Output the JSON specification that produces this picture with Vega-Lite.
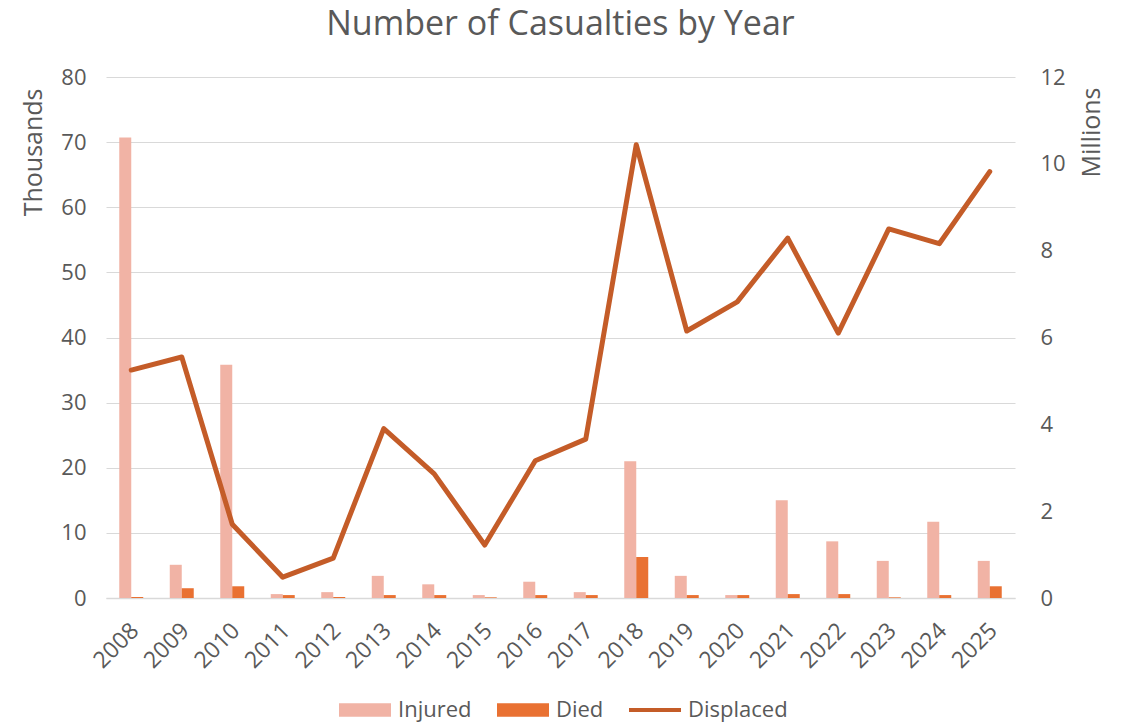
{
  "$schema": "https://vega.github.io/schema/vega-lite/v6.json",
  "width": 909,
  "height": 521,
  "autosize": "none",
  "padding": {"left": 106, "top": 77, "right": 112, "bottom": 130},
  "background": "white",
  "title": {
    "text": "Number of Casualties by Year",
    "fontSize": 34,
    "font": "Open Sans",
    "fontWeight": "normal",
    "color": "#595959",
    "offset": 24,
    "anchor": "middle"
  },
  "config": {
    "view": {"stroke": null},
    "font": "Open Sans",
    "axis": {
      "labelColor": "#595959",
      "titleColor": "#595959",
      "labelFontSize": 22,
      "titleFontSize": 25,
      "titleFontWeight": "normal",
      "ticks": false,
      "domain": false
    }
  },
  "datasets": {
    "bars": [
      {"year": "2008", "series": "Injured", "value": 70.7},
      {"year": "2008", "series": "Died", "value": 0.15},
      {"year": "2009", "series": "Injured", "value": 5.1},
      {"year": "2009", "series": "Died", "value": 1.5},
      {"year": "2010", "series": "Injured", "value": 35.8},
      {"year": "2010", "series": "Died", "value": 1.8},
      {"year": "2011", "series": "Injured", "value": 0.6},
      {"year": "2011", "series": "Died", "value": 0.45},
      {"year": "2012", "series": "Injured", "value": 0.9},
      {"year": "2012", "series": "Died", "value": 0.15},
      {"year": "2013", "series": "Injured", "value": 3.4},
      {"year": "2013", "series": "Died", "value": 0.45},
      {"year": "2014", "series": "Injured", "value": 2.1},
      {"year": "2014", "series": "Died", "value": 0.45},
      {"year": "2015", "series": "Injured", "value": 0.45},
      {"year": "2015", "series": "Died", "value": 0.1},
      {"year": "2016", "series": "Injured", "value": 2.5},
      {"year": "2016", "series": "Died", "value": 0.45},
      {"year": "2017", "series": "Injured", "value": 0.9},
      {"year": "2017", "series": "Died", "value": 0.45},
      {"year": "2018", "series": "Injured", "value": 21.0},
      {"year": "2018", "series": "Died", "value": 6.3},
      {"year": "2019", "series": "Injured", "value": 3.4},
      {"year": "2019", "series": "Died", "value": 0.45},
      {"year": "2020", "series": "Injured", "value": 0.45},
      {"year": "2020", "series": "Died", "value": 0.45},
      {"year": "2021", "series": "Injured", "value": 15.0},
      {"year": "2021", "series": "Died", "value": 0.6},
      {"year": "2022", "series": "Injured", "value": 8.7},
      {"year": "2022", "series": "Died", "value": 0.6},
      {"year": "2023", "series": "Injured", "value": 5.7},
      {"year": "2023", "series": "Died", "value": 0.1},
      {"year": "2024", "series": "Injured", "value": 11.7},
      {"year": "2024", "series": "Died", "value": 0.45},
      {"year": "2025", "series": "Injured", "value": 5.7},
      {"year": "2025", "series": "Died", "value": 1.8}
    ],
    "displaced": [
      {"year": "2008", "value": 5.25},
      {"year": "2009", "value": 5.55},
      {"year": "2010", "value": 1.7},
      {"year": "2011", "value": 0.48},
      {"year": "2012", "value": 0.92},
      {"year": "2013", "value": 3.9},
      {"year": "2014", "value": 2.86},
      {"year": "2015", "value": 1.22},
      {"year": "2016", "value": 3.16},
      {"year": "2017", "value": 3.66},
      {"year": "2018", "value": 10.44},
      {"year": "2019", "value": 6.15},
      {"year": "2020", "value": 6.82},
      {"year": "2021", "value": 8.29},
      {"year": "2022", "value": 6.1},
      {"year": "2023", "value": 8.5},
      {"year": "2024", "value": 8.16},
      {"year": "2025", "value": 9.82}
    ]
  },
  "layer": [
    {
      "data": {"name": "bars"},
      "mark": {"type": "bar"},
      "encoding": {
        "x": {
          "field": "year",
          "type": "ordinal",
          "scale": {"paddingInner": 0.525, "paddingOuter": 0.2625},
          "axis": {
            "title": null,
            "labelAngle": -45,
            "labelPadding": 21,
            "labelOffset": -4,
            "labelFontSize": 23,
            "domain": true,
            "domainColor": "#D9D9D9",
            "domainWidth": 1.5
          }
        },
        "xOffset": {
          "field": "series",
          "sort": ["Injured", "Died"],
          "scale": {"paddingInner": 0, "paddingOuter": 0}
        },
        "y": {
          "field": "value",
          "type": "quantitative",
          "scale": {"domain": [0, 80]},
          "axis": {
            "title": "Thousands",
            "values": [0, 10, 20, 30, 40, 50, 60, 70, 80],
            "grid": true,
            "gridColor": "#D9D9D9",
            "gridWidth": 1.2,
            "labelPadding": 20,
            "titleAnchor": "end",
            "titleY": 11,
            "titlePadding": 14
          }
        },
        "color": {
          "field": "series",
          "type": "nominal",
          "sort": ["Injured", "Died", "Displaced"],
          "scale": {
            "domain": ["Injured", "Died", "Displaced"],
            "range": ["#F1B3A5", "#E97132", "#C45C28"]
          },
          "legend": {
            "orient": "none",
            "legendX": 233,
            "legendY": 607,
            "direction": "horizontal",
            "title": null,
            "labelFontSize": 22,
            "labelColor": "#595959",
            "symbolSize": 2704,
            "symbolType": "M-1,-0.26H1V0.26H-1Z",
            "symbolStrokeWidth": 0,
            "labelOffset": 7,
            "columnPadding": 25,
            "encode": {
              "symbols": {
                "update": {
                  "shape": {"signal": "datum.value === 'Displaced' ? 'M-1,-0.08H1V0.08H-1Z' : 'M-1,-0.26H1V0.26H-1Z'"},
                  "fill": {"scale": "color", "field": "value"},
                  "fillOpacity": {"value": 1},
                  "strokeWidth": {"value": 0}
                }
              }
            }
          }
        }
      }
    },
    {
      "data": {"name": "displaced"},
      "mark": {"type": "line", "strokeWidth": 5, "strokeJoin": "round", "strokeCap": "round"},
      "encoding": {
        "x": {"field": "year", "type": "ordinal"},
        "y": {
          "field": "value",
          "type": "quantitative",
          "scale": {"domain": [0, 12]},
          "axis": {
            "title": "Millions",
            "orient": "right",
            "values": [0, 2, 4, 6, 8, 10, 12],
            "grid": false,
            "labelPadding": 25,
            "titleAngle": 270,
            "titleBaseline": "top",
            "titleAnchor": "end",
            "titleY": 10,
            "titlePadding": 14
          }
        },
        "color": {"datum": "Displaced", "type": "nominal"}
      }
    }
  ],
  "resolve": {"scale": {"y": "independent"}}
}
